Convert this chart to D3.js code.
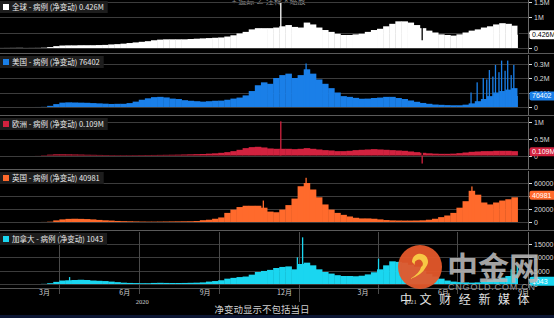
<!DOCTYPE html>
<html>
<head>
<meta charset="utf-8">
<script src="https://cdn.jsdelivr.net/npm/d3@7.9.0/dist/d3.min.js"></script>
<style>
  body { margin: 0; background: #000; overflow: hidden; }
  svg { display: block; }
  text { font-family: "Noto Sans CJK SC", "Liberation Sans", sans-serif; }
</style>
</head>
<body>
<svg id="chart" width="554" height="318"></svg>
<script>
// weekly values, one per week starting 2020-01-22
const weekStart = new Date(2020, 0, 22);
const dataEnd = new Date(2021, 8, 9);

// global, millions
const globalCases = [0.002,0.003,0.004,0.006,0.002,0.003,0.004,0.01,0.03,0.06,
  0.08,0.085,0.085,0.09,0.09,0.09,0.095,0.1,0.115,0.125,
  0.14,0.16,0.18,0.2,0.22,0.25,0.27,0.28,0.28,0.28,
  0.28,0.29,0.3,0.31,0.32,0.33,0.34,0.37,0.41,0.47,
  0.52,0.6,0.64,0.64,0.64,0.66,0.7,0.74,0.68,0.66,
  0.82,0.76,0.66,0.58,0.52,0.46,0.42,0.42,0.44,0.46,
  0.52,0.58,0.62,0.7,0.78,0.86,0.86,0.82,0.74,0.64,
  0.56,0.5,0.44,0.42,0.4,0.44,0.5,0.56,0.6,0.66,
  0.7,0.76,0.8,0.78,0.72];
// US, millions
const usCases = [0,0,0,0,0,0,0.0002,0.001,0.008,0.02,
  0.03,0.032,0.031,0.03,0.029,0.027,0.025,0.023,0.021,0.022,
  0.022,0.027,0.037,0.05,0.06,0.068,0.07,0.066,0.058,0.055,
  0.047,0.043,0.04,0.037,0.04,0.043,0.044,0.05,0.058,0.065,
  0.08,0.11,0.15,0.17,0.16,0.2,0.22,0.23,0.2,0.22,
  0.26,0.23,0.19,0.16,0.13,0.1,0.075,0.07,0.063,0.057,
  0.058,0.062,0.065,0.07,0.07,0.062,0.055,0.045,0.036,0.028,
  0.022,0.017,0.015,0.013,0.012,0.012,0.016,0.025,0.04,0.055,
  0.075,0.1,0.11,0.12,0.13];
// Europe, millions
const europeCases = [0,0,0,0,0,0,0.002,0.01,0.025,0.035,
  0.035,0.033,0.03,0.027,0.022,0.02,0.017,0.015,0.013,0.012,
  0.012,0.012,0.013,0.014,0.015,0.016,0.018,0.02,0.022,0.025,
  0.03,0.035,0.04,0.045,0.055,0.065,0.08,0.1,0.13,0.17,
  0.22,0.25,0.26,0.24,0.21,0.2,0.2,0.2,0.19,0.2,
  0.22,0.2,0.18,0.16,0.15,0.13,0.13,0.14,0.16,0.17,
  0.18,0.19,0.18,0.17,0.16,0.15,0.14,0.12,0.1,0.08,
  0.065,0.055,0.05,0.05,0.055,0.07,0.09,0.11,0.12,0.13,
  0.13,0.14,0.14,0.14,0.13];
// UK, thousands
const ukCases = [0,0,0,0,0,0,0,0.1,0.5,2.5,
  4,4.8,5,4.8,4.5,4,3.2,2.6,2.2,1.6,
  1.3,1.1,0.9,0.7,0.6,0.6,0.7,0.8,0.9,1.0,
  1.1,1.2,1.5,2.8,3.5,5,7,14,19,23,
  25,25,25,22,16,15,19,26,36,55,
  60,50,38,27,19,14,11,8.5,6.5,5.5,
  5.5,5,4,3,2.5,2.3,2.2,2.2,2.3,2.6,
  3.5,5,7.5,10,14,22,32,48,42,30,
  27,30,33,35,38];
// Canada, thousands
const canadaCases = [0,0,0,0,0,0,0,0.05,0.3,0.8,
  1.3,1.4,1.5,1.6,1.5,1.3,1.2,1.1,0.9,0.7,
  0.5,0.4,0.35,0.3,0.3,0.4,0.45,0.4,0.38,0.38,
  0.4,0.45,0.5,0.6,0.9,1.1,1.4,2.0,2.3,2.6,
  2.8,3.5,4.5,4.9,5.3,6.0,6.4,6.6,5.5,7.5,
  8.0,7.0,5.5,4.5,3.9,3.3,3.0,3.0,2.9,3.1,
  3.6,4.4,5.5,7.0,8.5,8.3,8.0,7.2,6.5,5.0,
  3.8,2.8,2.0,1.3,0.9,0.7,0.6,0.5,0.6,0.9,
  1.4,1.9,2.4,3.0,3.6];

// single-day outliers
const globalSpikeDates = ["2020-12-10", "2021-05-21", "2021-09-08"];
const globalSpikeVals = [1.45, 0.25, 0.426];
const usSpikeDates = ["2021-01-08", "2021-07-16", "2021-07-23", "2021-07-30", "2021-08-03", "2021-08-06",
  "2021-08-10", "2021-08-13", "2021-08-17", "2021-08-20", "2021-08-24", "2021-08-27", "2021-08-31", "2021-09-03", "2021-09-08"];
const usSpikeVals = [0.3, 0.1, 0.17, 0.2, 0.19, 0.255, 0.21, 0.29, 0.24, 0.32, 0.25, 0.32, 0.22, 0.29, 0.076];
const europeSpikeDates = ["2020-12-10", "2021-05-21"];
const europeSpikeVals = [1.02, -0.24];
const ukSpikeDates = ["2020-11-20", "2021-01-08", "2021-07-17"];
const ukSpikeVals = [33, 68, 54.7];
const canadaSpikeDates = ["2020-04-12", "2020-12-29", "2021-01-04", "2021-04-01", "2021-08-31", "2021-09-07"];
const canadaSpikeVals = [2.6, 10, 17.5, 9.5, 5.5, 7];

const lastValues = [0.426, 0.076402, 0.109, 40.981, 1.043];

const globalTicks = [0, 0.5, 1, 1.5];
const globalTickLabels = ["0", "0.5M", "1M", "1.5M"];
const usTicks = [0, 0.1, 0.2, 0.3];
const usTickLabels = ["0", "0.1M", "0.2M", "0.3M"];
const europeTicks = [0, 0.5, 1];
const europeTickLabels = ["0", "0.5M", "1M"];
const ukTicks = [0, 20, 40, 60];
const ukTickLabels = ["0", "20000", "40000", "60000"];
const canadaTicks = [0, 5, 10, 15];
const canadaTickLabels = ["0", "5000", "10000", "15000"];

const panels = [
  { label: "全球 - 病例 (净变动) 0.426M", values: globalCases, sd: globalSpikeDates, sv: globalSpikeVals,
    color: "#ffffff", tag: "0.426M", tagText: "#000", ticks: globalTicks, tickLabels: globalTickLabels,
    top: 0, bottom: 53, y0: 48, y1: 1.5, max: 1.5 },
  { label: "美国 - 病例 (净变动) 76402", values: usCases, sd: usSpikeDates, sv: usSpikeVals,
    color: "#1a7fe8", tag: "76402", tagText: "#fff", ticks: usTicks, tickLabels: usTickLabels,
    top: 55, bottom: 116, y0: 107, y1: 63.5, max: 0.3 },
  { label: "欧洲 - 病例 (净变动) 0.109M", values: europeCases, sd: europeSpikeDates, sv: europeSpikeVals,
    color: "#d2223f", tag: "0.109M", tagText: "#fff", ticks: europeTicks, tickLabels: europeTickLabels,
    top: 117, bottom: 169, y0: 155.5, y1: 122, max: 1 },
  { label: "英国 - 病例 (净变动) 40981", values: ukCases, sd: ukSpikeDates, sv: ukSpikeVals,
    color: "#ff6a2c", tag: "40981", tagText: "#fff", ticks: ukTicks, tickLabels: ukTickLabels,
    top: 171, bottom: 230, y0: 222, y1: 183, max: 60 },
  { label: "加拿大 - 病例 (净变动) 1043", values: canadaCases, sd: canadaSpikeDates, sv: canadaSpikeVals,
    color: "#1ad6f0", tag: "1043", tagText: "#fff", ticks: canadaTicks, tickLabels: canadaTickLabels,
    top: 232, bottom: 288, y0: 284, y1: 244, max: 15 }
];

const svg = d3.select("#chart");
const W = 554, axisX = 528;
const parse = d3.timeParse("%Y-%m-%d");

const x = d3.scaleTime()
  .domain([new Date(2020, 0, 24), new Date(2021, 8, 20)])
  .range([0, axisX]);

svg.append("rect").attr("width", W).attr("height", 318).attr("fill", "#000");

// toolbar text at top, cut off
svg.append("text").attr("x", 232).attr("y", 4).attr("font-size", 8).attr("fill", "#8a8a8a")
  .text("+ 追踪  ∠ 注释  ⌕ 缩放");

panels.forEach((p, pi) => {
  const y = d3.scaleLinear().domain([0, p.max]).range([p.y0, p.y1]);
  const g = svg.append("g");

  // separator
  if (pi > 0) {
    g.append("line").attr("x1", 0).attr("x2", W).attr("y1", p.top - 1.5).attr("y2", p.top - 1.5)
      .attr("stroke", "#5a5a5a").attr("stroke-width", 1);
  }

  // gridlines
  g.selectAll(".grid").data(p.ticks).join("line")
    .attr("x1", 0).attr("x2", axisX)
    .attr("y1", d => Math.round(y(d)) + 0.5).attr("y2", d => Math.round(y(d)) + 0.5)
    .attr("stroke", "#3c3c3c").attr("stroke-width", 1);

  // quarter lines only in the last panel
  if (pi === panels.length - 1) {
    const qs = d3.timeMonth.range(new Date(2020, 3, 1), new Date(2021, 8, 1), 3);
    g.selectAll(".q").data(qs).join("line")
      .attr("x1", d => Math.round(x(d)) + 0.5).attr("x2", d => Math.round(x(d)) + 0.5)
      .attr("y1", p.top).attr("y2", d => d.getMonth() === 0 ? 302 : 294)
      .attr("stroke", "#4a4a4a");
  }

  // weekly bars
  const weeks = p.values.map((v, i) => {
    const d0 = d3.timeDay.offset(weekStart, 7 * i);
    let d1 = d3.timeDay.offset(weekStart, 7 * (i + 1));
    if (d1 > dataEnd) d1 = dataEnd;
    return { d0, d1, v };
  });
  g.selectAll(".bar").data(weeks).join("rect")
    .attr("x", d => x(d.d0))
    .attr("width", d => Math.max(0, x(d.d1) - x(d.d0) + 0.4))
    .attr("y", d => y(d.v))
    .attr("height", d => Math.max(0, y(0) - y(d.v)))
    .attr("fill", p.color);

  // single-day outliers
  const spikes = p.sd.map((s, i) => {
    const d = parse(s);
    const wi = Math.min(p.values.length - 1, Math.floor(d3.timeDay.count(weekStart, d) / 7));
    return { d, v: p.sv[i], base: p.values[wi] };
  });
  spikes.forEach(s => {
    const sx = x(s.d), sw = 1.3;
    if (s.v >= s.base) {
      g.append("rect").attr("x", sx).attr("width", sw).attr("y", y(s.v))
        .attr("height", y(0) - y(s.v)).attr("fill", p.color);
    } else {
      const low = Math.max(s.v, 0);
      g.append("rect").attr("x", sx).attr("width", sw).attr("y", y(s.base) - 0.5)
        .attr("height", y(low) - y(s.base) + 0.5).attr("fill", "#000");
      if (s.v < 0) {
        g.append("rect").attr("x", sx).attr("width", sw).attr("y", y(0))
          .attr("height", y(s.v) - y(0)).attr("fill", p.color);
      }
    }
  });

  // right axis
  g.append("line").attr("x1", axisX + 0.5).attr("x2", axisX + 0.5)
    .attr("y1", p.top).attr("y2", p.bottom).attr("stroke", "#6a6a6a");
  p.ticks.forEach((t, i) => {
    const ty = Math.round(y(t)) + 0.5;
    g.append("line").attr("x1", axisX + 1).attr("x2", axisX + 4).attr("y1", ty).attr("y2", ty)
      .attr("stroke", "#ddd");
    g.append("text").attr("x", axisX + 6).attr("y", ty).attr("dy", "0.35em")
      .attr("font-size", 7).attr("fill", "#d8d8d8")
      .style("font-family", "'Liberation Sans', sans-serif")
      .text(p.tickLabels[i]);
  });

  // current value tag
  const ty = y(lastValues[pi]);
  g.append("rect").attr("x", axisX + 1.5).attr("y", ty - 4.5).attr("width", W - axisX).attr("height", 9)
    .attr("rx", 2).attr("fill", p.color);
  g.append("text").attr("x", axisX + 4).attr("y", ty).attr("dy", "0.35em")
    .attr("font-size", 7).attr("fill", p.tagText)
    .style("font-family", "'Liberation Sans', sans-serif")
    .text(p.tag);

  // legend box
  const lg = g.append("g");
  const box = lg.append("rect").attr("x", 0).attr("y", p.top + 1).attr("height", 12).attr("fill", "#1d1d1d");
  lg.append("rect").attr("x", 3).attr("y", p.top + 4).attr("width", 6).attr("height", 6).attr("fill", p.color);
  const lt = lg.append("text").attr("x", 12).attr("y", p.top + 7).attr("dy", "0.35em")
    .attr("font-size", 7.5).attr("fill", "#eaeaea").text(p.label);
  box.attr("width", lt.node().getComputedTextLength() + 16);
});

// x axis
svg.append("line").attr("x1", 0).attr("x2", axisX).attr("y1", 288.5).attr("y2", 288.5).attr("stroke", "#555");
const monthTicks = d3.timeMonth.range(new Date(2020, 2, 1), new Date(2021, 9, 1), 3)
  .map(d => d3.timeDay.offset(d, 14));
svg.selectAll(".mt").data(monthTicks).join("text")
  .attr("x", d => x(d)).attr("y", 295).attr("text-anchor", "middle")
  .attr("font-size", 7).attr("fill", "#d0d0d0")
  .text(d => (d.getMonth() + 1) + "月");
const yearLabels = [{ d: new Date(2020, 6, 5), t: "2020" }, { d: new Date(2021, 4, 8), t: "2021" }];
svg.selectAll(".yl").data(yearLabels).join("text")
  .attr("x", d => x(d.d)).attr("y", 304).attr("text-anchor", "middle")
  .attr("font-size", 6.5).attr("fill", "#d0d0d0")
  .style("font-family", "'Liberation Serif', serif")
  .text(d => d.t);

svg.append("text").attr("x", 262).attr("y", 313).attr("text-anchor", "middle")
  .attr("font-size", 9.5).attr("fill", "#cfcfcf").text("净变动显示不包括当日");

svg.append("rect").attr("x", 0).attr("y", 315).attr("width", W).attr("height", 3).attr("fill", "#0c1634");

// watermark
const wm = svg.append("g");
wm.append("circle").attr("cx", 420).attr("cy", 267).attr("r", 22).attr("fill", "#e4572a").attr("opacity", 0.95);
wm.append("path").attr("d", "M412,262 a8,8 0 1,1 14,5 q-4,8 -16,12 q10,-6 11,-12 a4,4 0 1,0 -6,-2 z")
  .attr("fill", "#f7c744");
wm.append("text").attr("x", 447).attr("y", 279).attr("font-size", 31).attr("font-weight", 700)
  .attr("fill", "#b5b5b5").attr("opacity", 0.9).text("中金网");
wm.append("text").attr("x", 448).attr("y", 290).attr("font-size", 9).attr("letter-spacing", 0.8)
  .attr("fill", "#9a9a9a").style("font-family", "'Liberation Sans', sans-serif").text("CNGOLD.COM.CN");
wm.append("text").attr("x", 400).attr("y", 304).attr("font-size", 12).attr("letter-spacing", 7.6)
  .attr("fill", "#e2e2e2").text("中文财经新媒体");
</script>
</body>
</html>
